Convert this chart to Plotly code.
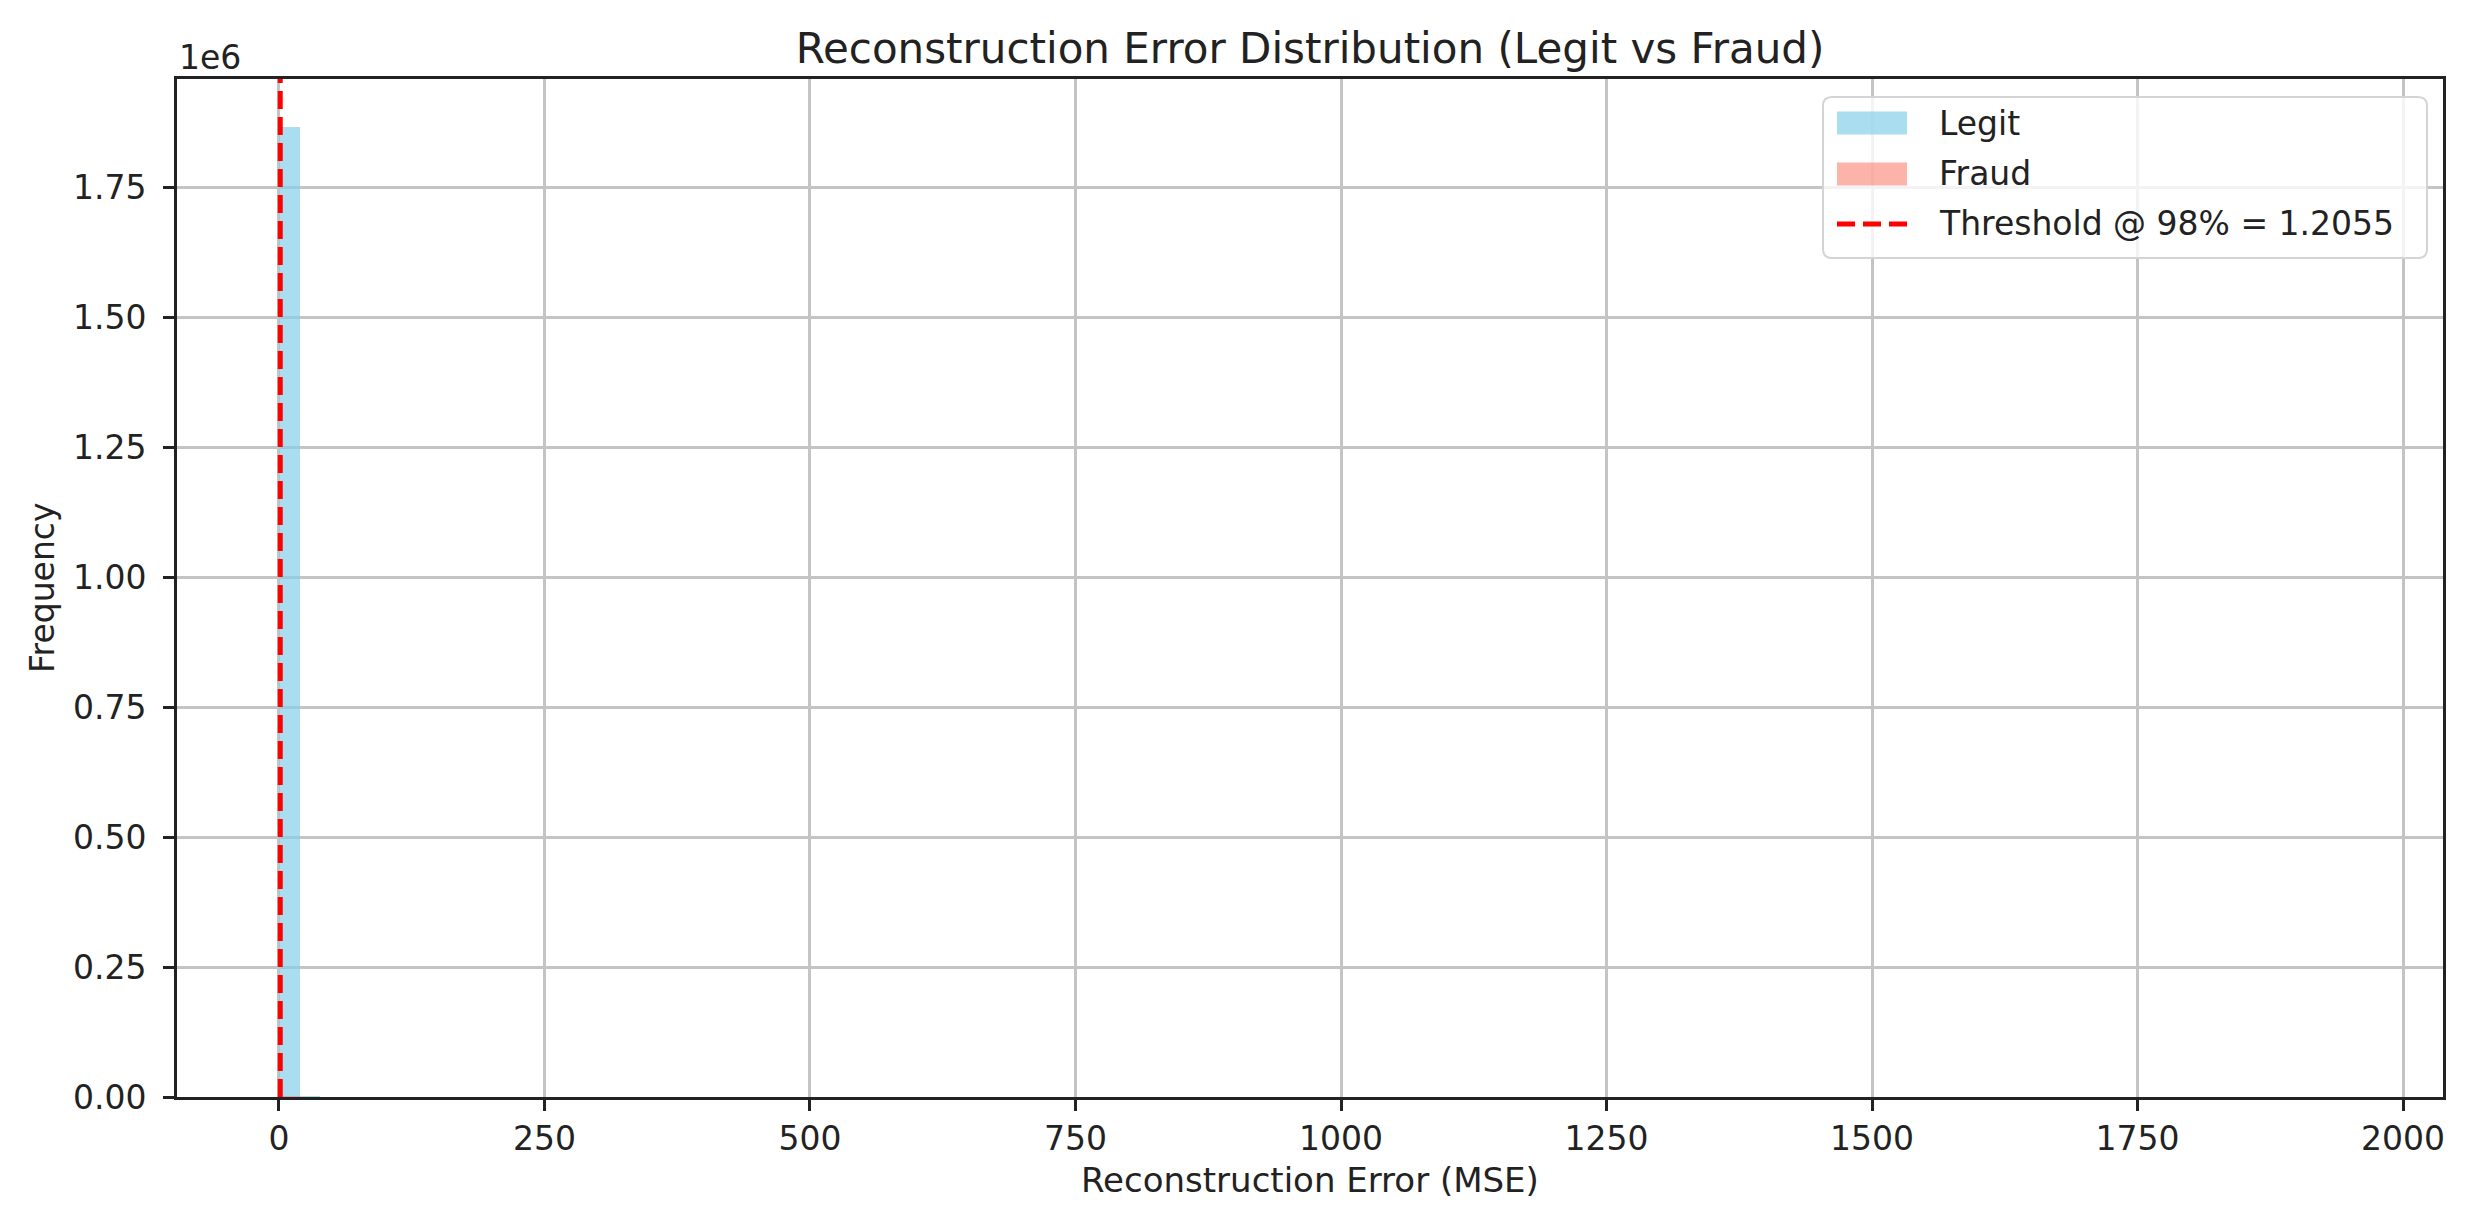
import plotly.graph_objects as go

# histogram bins (bin centres of the 100-bin histogram, width ~19.4)
BIN_WIDTH = 19.4
legit_bin_centers = [9.7, 29.1, 48.5, 67.9, 87.3, 145.5, 301.0, 611.1, 1203.0, 1930.3]
legit_counts = [1865000, 1600, 420, 150, 70, 25, 8, 3, 1, 1]
fraud_bin_centers = [9.7, 29.1, 48.5, 87.3]
fraud_counts = [2500, 600, 140, 30]

threshold = 1.2055
threshold_pct = 98

x_ticks = [0, 250, 500, 750, 1000, 1250, 1500, 1750, 2000]
y_ticks = [0, 250000, 500000, 750000, 1000000, 1250000, 1500000, 1750000]
y_tick_labels = ["0.00", "0.25", "0.50", "0.75", "1.00", "1.25", "1.50", "1.75"]

LEGIT_COLOR = "rgba(135,206,235,0.7)"
FRAUD_COLOR = "rgba(250,128,114,0.6)"
THR_COLOR = "#ff0000"
TXT = "#222"
FONT = "DejaVu Sans"

# page body has an 8px margin, so the figure is 8px smaller than the window
W, H = 2463, 1212
L, R, T, B = 169, 28, 71, 123
PW, PH = W - L - R, H - T - B


def px(x):
    return (x - L) / PW


def py(y):
    return (H - B - y) / PH


fig = go.Figure()

fig.add_trace(go.Bar(
    name="Legit", x=legit_bin_centers, y=legit_counts, width=BIN_WIDTH,
    marker=dict(color=LEGIT_COLOR, line=dict(width=0)),
))
fig.add_trace(go.Bar(
    name="Fraud", x=fraud_bin_centers, y=fraud_counts, width=BIN_WIDTH,
    marker=dict(color=FRAUD_COLOR, line=dict(width=0)),
))

thr_label = f"Threshold @ {threshold_pct}% = {threshold:.4f}"
fig.add_shape(
    type="line", xref="x", yref="paper",
    x0=threshold, x1=threshold, y0=0, y1=1,
    line=dict(color=THR_COLOR, width=5, dash="18px,8px"),
)

# legend drawn by hand (matplotlib-like frame and wide patches)
bx0, bx1, by0, by1, rad = 1815, 2419, 89, 250, 9
path = (
    f"M{px(bx0 + rad)},{py(by0)} L{px(bx1 - rad)},{py(by0)} "
    f"Q{px(bx1)},{py(by0)} {px(bx1)},{py(by0 + rad)} "
    f"L{px(bx1)},{py(by1 - rad)} Q{px(bx1)},{py(by1)} {px(bx1 - rad)},{py(by1)} "
    f"L{px(bx0 + rad)},{py(by1)} Q{px(bx0)},{py(by1)} {px(bx0)},{py(by1 - rad)} "
    f"L{px(bx0)},{py(by0 + rad)} Q{px(bx0)},{py(by0)} {px(bx0 + rad)},{py(by0)} Z"
)
fig.add_shape(type="path", xref="paper", yref="paper", path=path,
              fillcolor="rgba(255,255,255,0.8)", line=dict(color="#d4d4d4", width=2))

entries = [
    ("Legit", LEGIT_COLOR, "patch", 115),
    ("Fraud", FRAUD_COLOR, "patch", 166),
    (thr_label, THR_COLOR, "line", 215),
]
for label, color, kind, yc in entries:
    if kind == "patch":
        fig.add_shape(type="rect", xref="paper", yref="paper",
                      x0=px(1829), x1=px(1899), y0=py(yc - 11.5), y1=py(yc + 11.5),
                      fillcolor=color, line=dict(width=0))
    else:
        fig.add_shape(type="line", xref="paper", yref="paper",
                      x0=px(1829), x1=px(1899), y0=py(yc + 1), y1=py(yc + 1),
                      line=dict(color=color, width=5, dash="18px,8px"))
    fig.add_annotation(text=label, xref="paper", yref="paper", x=px(1929), y=py(yc),
                       xanchor="left", yanchor="middle", showarrow=False,
                       font=dict(family=FONT, size=33, color=TXT))

# offset text and axis titles
fig.add_annotation(text="1e6", xref="paper", yref="paper", x=0, y=py(50),
                   xanchor="left", yanchor="middle", showarrow=False,
                   font=dict(family=FONT, size=33, color=TXT))
fig.add_annotation(text="Frequency", xref="paper", yref="paper", x=px(34), y=0.5,
                   textangle=-90, xanchor="center", yanchor="middle", showarrow=False,
                   font=dict(family=FONT, size=33, color=TXT))
fig.add_annotation(text="Reconstruction Error (MSE)", xref="paper", yref="paper",
                   x=0.5, y=py(1172), xanchor="center", yanchor="middle", showarrow=False,
                   font=dict(family=FONT, size=34, color=TXT))

fig.update_layout(
    width=W, height=H,
    barmode="overlay", bargap=0,
    showlegend=False,
    plot_bgcolor="white", paper_bgcolor="white",
    margin=dict(l=L, r=R, t=T, b=B),
    font=dict(family=FONT, size=33, color=TXT),
    title=dict(
        text="Reconstruction Error Distribution (Legit vs Fraud)",
        x=0.5, xref="paper", y=1 - 40 / H, yref="container",
        xanchor="center", yanchor="middle",
        font=dict(family=FONT, size=42, color=TXT),
    ),
)

axis_style = dict(
    ticks="outside", ticklen=11, tickwidth=2.6, tickcolor=TXT,
    showline=True, linecolor=TXT, linewidth=2.6, mirror=True,
    showgrid=True, gridcolor="#c4c4c4", gridwidth=2.5, zeroline=False,
    tickfont=dict(family=FONT, size=33, color=TXT),
)
fig.update_xaxes(range=[-96, 2037.6], tickvals=x_ticks, **axis_style)
fig.update_yaxes(range=[0, 1957700], tickvals=y_ticks, ticktext=y_tick_labels,
                 ticklabelstandoff=10, **axis_style)

fig.write_html("out.html")
